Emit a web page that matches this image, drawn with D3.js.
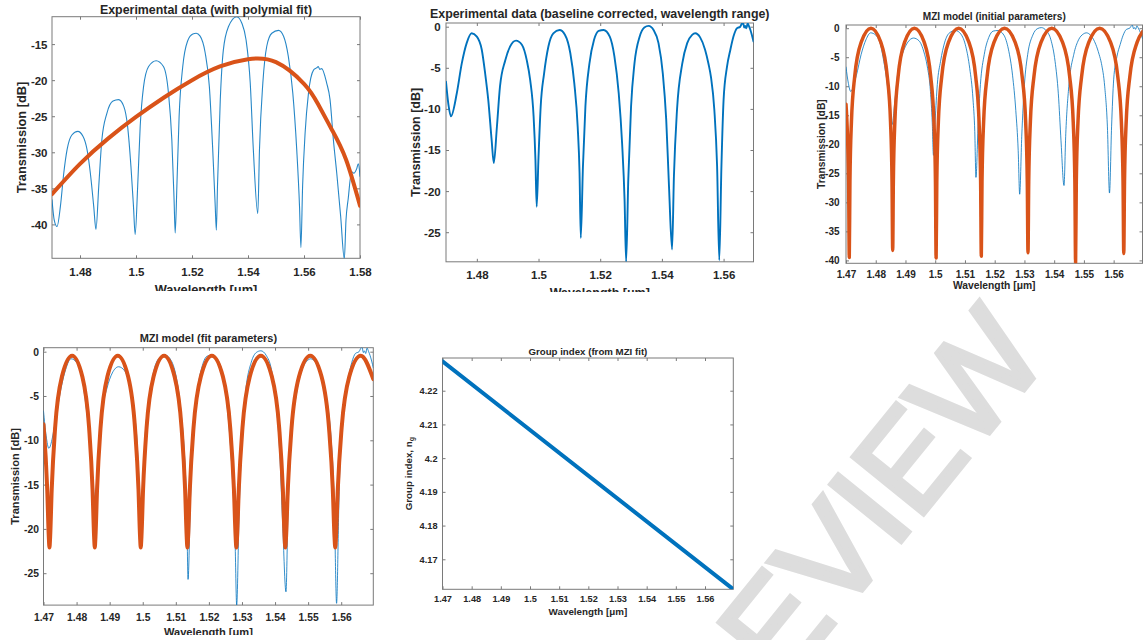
<!DOCTYPE html>
<html>
<head>
<meta charset="utf-8">
<script src="https://cdn.jsdelivr.net/npm/d3@7"></script>
<style>
  body { margin: 0; background: #fff; }
  svg { display: block; }
</style>
</head>
<body>
<svg id="fig" width="1143" height="640"></svg>
<script>
// ---------- data ----------
// Raw transmission spectrum [wavelength um, dB]
const rawSpectrum = [
  [1.4700,-36.6],[1.4708,-39.4],[1.4718,-40.3],[1.4730,-37.5],[1.4742,-32.9],[1.4754,-29.6],[1.4771,-27.6],[1.4792,-27.1],[1.4811,-27.8],[1.4825,-29.6],[1.4837,-32.9],[1.4849,-37.5],[1.4857,-40.7],
  [1.4867,-34.7],[1.4878,-28.3],[1.4896,-24.6],[1.4918,-22.9],[1.4938,-22.7],[1.4956,-23.6],[1.4970,-26.4],[1.4982,-32.0],[1.4991,-37.5],[1.4997,-41.4],
  [1.5006,-34.7],[1.5015,-26.4],[1.5027,-20.9],[1.5045,-18.1],[1.5072,-17.3],[1.5098,-18.1],[1.5116,-21.8],[1.5128,-28.3],[1.5136,-36.6],[1.5140,-41.2],
  [1.5146,-34.7],[1.5154,-25.0],[1.5167,-18.1],[1.5184,-14.6],[1.5203,-13.6],[1.5215,-13.5],[1.5229,-13.9],[1.5247,-16.2],[1.5262,-20.9],[1.5274,-29.6],[1.5283,-37.5],[1.5287,-40.8],
  [1.5291,-34.7],[1.5301,-22.7],[1.5312,-15.8],[1.5330,-12.6],[1.5360,-11.2],[1.5378,-12.1],[1.5393,-14.4],[1.5408,-20.4],[1.5419,-29.6],[1.5435,-38.5],
  [1.5441,-29.6],[1.5453,-20.4],[1.5467,-15.3],[1.5485,-13.5],[1.5509,-13.1],[1.5527,-13.9],[1.5544,-16.7],[1.5560,-21.8],[1.5574,-29.6],[1.5584,-37.5],[1.5589,-43.2],
  [1.5595,-34.7],[1.5604,-27.3],[1.5616,-21.8],[1.5634,-18.6],[1.5645,-18.3],[1.5651,-18.1],[1.5656,-18.5],[1.5663,-18.4],[1.5681,-20.4],[1.5693,-22.7],[1.5705,-28.3],[1.5717,-32.9],[1.5731,-38.9],[1.5744,-44.8],
  [1.5750,-39.4],[1.5758,-36.4],[1.5770,-32.7],[1.5778,-32.9],[1.5788,-32.3],[1.5794,-31.6],[1.5800,-33.3]
];

// Polynomial baseline fit [wavelength um, dB]
const polyFit = [
  [1.470,-35.8],[1.480,-31.6],[1.490,-28.1],[1.500,-25.1],[1.510,-22.4],[1.520,-20.0],
  [1.530,-18.1],[1.540,-17.1],[1.550,-17.5],[1.560,-20.5],[1.565,-23.3],[1.570,-26.9],
  [1.575,-31.0],[1.580,-37.4]
];

// Baseline-corrected spectrum [wavelength um, dB]
const correctedSpectrum = [
  [1.4700,-6.7],[1.4708,-9.5],[1.4716,-10.9],[1.4735,-8.1],[1.4751,-4.5],[1.4767,-2.0],[1.4783,-0.8],[1.4800,-1.2],[1.4816,-2.8],[1.4827,-5.7],[1.4837,-8.9],[1.4848,-13.8],[1.4855,-16.6],
  [1.4865,-12.2],[1.4875,-7.3],[1.4892,-4.1],[1.4908,-2.4],[1.4927,-1.7],[1.4946,-2.2],[1.4962,-4.1],[1.4973,-6.5],[1.4984,-10.9],[1.4990,-16.2],[1.4994,-21.9],
  [1.5000,-15.8],[1.5007,-9.7],[1.5018,-5.7],[1.5032,-2.4],[1.5048,-0.8],[1.5068,-0.4],[1.5086,-1.0],[1.5103,-3.2],[1.5116,-6.9],[1.5127,-12.2],[1.5133,-17.8],[1.5137,-25.7],
  [1.5144,-17.0],[1.5152,-9.7],[1.5165,-4.5],[1.5180,-1.6],[1.5195,-0.5],[1.5211,-0.4],[1.5231,-1.2],[1.5246,-3.6],[1.5260,-8.1],[1.5271,-14.2],[1.5279,-21.1],[1.5284,-28.6],
  [1.5291,-18.6],[1.5300,-9.7],[1.5311,-4.5],[1.5328,-1.2],[1.5343,-0.1],[1.5357,0.1],[1.5373,-0.4],[1.5389,-2.0],[1.5403,-5.7],[1.5414,-11.3],[1.5423,-19.4],[1.5433,-27.1],
  [1.5439,-18.2],[1.5449,-10.1],[1.5466,-4.5],[1.5482,-2.0],[1.5498,-1.0],[1.5508,-0.8],[1.5524,-1.3],[1.5540,-2.8],[1.5551,-4.5],[1.5559,-6.1],[1.5570,-10.1],[1.5579,-17.0],[1.5586,-28.4],
  [1.5593,-17.0],[1.5600,-8.9],[1.5611,-4.9],[1.5622,-2.8],[1.5632,-1.2],[1.5643,-0.2],[1.5654,0.0],[1.5658,0.3],[1.5663,0.5],[1.5667,-0.1],[1.5670,0.1],[1.5674,-0.2],[1.5678,0.4],[1.5683,0.0],[1.5687,-0.4],[1.5697,-1.8]
];

// MZI model with the initial parameters [wavelength um, dB]
const mziInitial = [
  [1.4700,-13.1],[1.47088,-26.5],[1.4711,-39.5],
  [1.47132,-26.5],[1.47183,-16.1],[1.47293,-8.3],[1.47512,-2.4],[1.4784,0],[1.48169,-2.4],[1.48388,-8.3],[1.48497,-16.1],[1.48548,-26.5],[1.4857,-38.3],
  [1.48592,-26.5],[1.48643,-16.1],[1.48753,-8.3],[1.48972,-2.4],[1.4930,0],[1.49629,-2.4],[1.49848,-8.3],[1.49957,-16.1],[1.50008,-26.5],[1.5003,-39.6],
  [1.50053,-26.5],[1.50106,-16.1],[1.5022,-8.3],[1.50448,-2.4],[1.5079,0],[1.51132,-2.4],[1.5136,-8.3],[1.51474,-16.1],[1.51527,-26.5],[1.5155,-39.3],
  [1.51573,-26.5],[1.51628,-16.1],[1.51745,-8.3],[1.51979,-2.4],[1.5233,0],[1.52686,-2.4],[1.52923,-8.3],[1.53041,-16.1],[1.53096,-26.5],[1.5312,-38.7],
  [1.53144,-26.5],[1.5320,-16.1],[1.5332,-8.3],[1.5356,-2.4],[1.5392,0],[1.5428,-2.4],[1.5452,-8.3],[1.5464,-16.1],[1.54696,-26.5],[1.5472,-40.4],
  [1.54744,-26.5],[1.54801,-16.1],[1.54923,-8.3],[1.55166,-2.4],[1.5553,0],[1.55895,-2.4],[1.56138,-8.3],[1.56259,-16.1],[1.56316,-26.5],[1.5634,-38.8],
  [1.56365,-26.5],[1.56422,-16.1],[1.56545,-8.3],[1.56791,-2.4],[1.5697,-0.6]
];

// MZI model with the fitted parameters [wavelength um, dB]
const mziFit = [
  [1.4700,-8.2],[1.47112,-15.5],[1.4716,-20.9],[1.4718,-22.1],
  [1.47201,-20.9],[1.47249,-15.5],[1.47351,-8.6],[1.47557,-2.8],[1.47865,-0.45],[1.48173,-2.8],[1.48379,-8.6],[1.48482,-15.5],[1.4853,-20.9],[1.4855,-22.1],
  [1.48571,-20.9],[1.4862,-15.5],[1.48724,-8.6],[1.48932,-2.8],[1.49245,-0.45],[1.49558,-2.8],[1.49766,-8.6],[1.49871,-15.5],[1.49919,-20.9],[1.4994,-22.1],
  [1.49961,-20.9],[1.50011,-15.5],[1.50116,-8.6],[1.50328,-2.8],[1.50645,-0.45],[1.50962,-2.8],[1.51174,-8.6],[1.5128,-15.5],[1.51329,-20.9],[1.5135,-22.1],
  [1.51372,-20.9],[1.51424,-15.5],[1.51535,-8.6],[1.51757,-2.8],[1.5209,-0.45],[1.52423,-2.8],[1.52645,-8.6],[1.52756,-15.5],[1.52808,-20.9],[1.5283,-22.1],
  [1.52852,-20.9],[1.52904,-15.5],[1.53015,-8.6],[1.53237,-2.8],[1.5357,-0.45],[1.53903,-2.8],[1.54125,-8.6],[1.54236,-15.5],[1.54288,-20.9],[1.5431,-22.1],
  [1.54333,-20.9],[1.54386,-15.5],[1.54499,-8.6],[1.54725,-2.8],[1.55065,-0.45],[1.55405,-2.8],[1.55631,-8.6],[1.55745,-15.5],[1.55797,-20.9],[1.5582,-22.1],
  [1.55843,-20.9],[1.55897,-15.5],[1.56013,-8.6],[1.56244,-2.8],[1.5659,-0.45],[1.5697,-3.1]
];

// Group index from the MZI fit [wavelength um, n_g]
const groupIndex = [[1.4700, 4.2287], [1.5697, 4.1611]];

// Tick values
const ticksRawX = [1.48, 1.5, 1.52, 1.54, 1.56, 1.58];
const ticksRawY = [-40, -35, -30, -25, -20, -15];
const ticksCorrX = [1.48, 1.5, 1.52, 1.54, 1.56];
const ticksCorrY = [-25, -20, -15, -10, -5, 0];
const ticksFineX = [1.47, 1.48, 1.49, 1.5, 1.51, 1.52, 1.53, 1.54, 1.55, 1.56];
const ticksModelY = [-40, -35, -30, -25, -20, -15, -10, -5, 0];
const ticksIndexY = [4.17, 4.18, 4.19, 4.2, 4.21, 4.22];

// ---------- drawing ----------
const FONT = "'Liberation Sans', Arial, Helvetica, sans-serif";
const TEXT = "#262626";
const AXIS = "#7a7a7a";
const BLUE = "#0072BD";
const ORANGE = "#D95319";
const svg = d3.select("#fig");
const defs = svg.append("defs");

function drawPanel(p) {
  const clipId = p.id + "-clip", boxId = p.id + "-box";
  defs.append("clipPath").attr("id", clipId).append("rect")
    .attr("x", p.clip[0]).attr("y", p.clip[1])
    .attr("width", p.clip[2] - p.clip[0]).attr("height", p.clip[3] - p.clip[1]);
  defs.append("clipPath").attr("id", boxId).append("rect")
    .attr("x", p.box.l).attr("y", p.box.t)
    .attr("width", p.box.r - p.box.l).attr("height", p.box.b - p.box.t);

  const g = svg.append("g").attr("clip-path", `url(#${clipId})`);
  const x = d3.scaleLinear().domain(p.xDomain).range([p.box.l, p.box.r]);
  const y = d3.scaleLinear().domain(p.yDomain).range([p.box.b, p.box.t]);
  const tickLen = 3;

  const styleAxis = sel => {
    sel.select(".domain").remove();
    sel.attr("font-family", FONT).attr("font-size", p.tickFs).attr("font-weight", "bold")
      .attr("color", AXIS);
    sel.selectAll("text").attr("fill", TEXT);
  };

  // axis box
  g.append("rect").attr("x", p.box.l).attr("y", p.box.t)
    .attr("width", p.box.r - p.box.l).attr("height", p.box.b - p.box.t)
    .attr("fill", "none").attr("stroke", AXIS).attr("stroke-width", 1);

  // bottom axis with labels, top axis ticks only
  g.append("g").attr("transform", `translate(0,${p.box.b})`)
    .call(d3.axisBottom(x).tickValues(p.xTicks).tickSizeInner(-tickLen).tickSizeOuter(0).tickFormat(d => String(d)))
    .call(styleAxis)
    .call(s => s.selectAll("text").attr("y", p.xTickBase - p.box.b).attr("dy", null));
  g.append("g").attr("transform", `translate(0,${p.box.t})`)
    .call(d3.axisTop(x).tickValues(p.xTicks).tickSizeInner(-tickLen).tickSizeOuter(0).tickFormat(""))
    .call(styleAxis);

  // left axis with labels, right axis ticks only
  g.append("g").attr("transform", `translate(${p.box.l},0)`)
    .call(d3.axisLeft(y).tickValues(p.yTicks).tickSizeInner(-tickLen).tickSizeOuter(0).tickPadding(p.yTickGap).tickFormat(d => String(d)))
    .call(styleAxis)
    .call(s => s.selectAll("text").attr("dy", "0.34em"));
  g.append("g").attr("transform", `translate(${p.box.r},0)`)
    .call(d3.axisRight(y).tickValues(p.yTicks).tickSizeInner(-tickLen).tickSizeOuter(0).tickFormat(""))
    .call(styleAxis);

  // data
  const plot = g.append("g").attr("clip-path", `url(#${boxId})`);
  p.series.forEach(s => {
    plot.append("path").datum(s.data)
      .attr("fill", "none").attr("stroke", s.color).attr("stroke-width", s.width)
      .attr("stroke-opacity", s.opacity == null ? 1 : s.opacity)
      .attr("stroke-linejoin", "round").attr("stroke-linecap", "round")
      .attr("d", d3.line().x(d => x(d[0])).y(d => y(d[1])).curve(s.curve || d3.curveMonotoneX));
  });

  const cx = (p.box.l + p.box.r) / 2, cy = (p.box.t + p.box.b) / 2;
  const txt = (sel, fs) => sel.attr("font-family", FONT).attr("font-weight", "bold")
    .attr("font-size", fs).attr("fill", TEXT).attr("text-anchor", "middle");

  g.append("text").attr("x", cx).attr("y", p.titleBase).text(p.title).call(txt, p.titleFs);
  g.append("text").attr("x", cx).attr("y", p.xLabelBase).call(txt, p.labelFs)
    .text("Wavelength [μm]");
  const yl = g.append("text").attr("transform", `translate(${p.yLabelBase},${cy}) rotate(-90)`)
    .call(txt, p.labelFs).text(p.yLabel);
  if (p.yLabelSub) {
    yl.append("tspan").attr("font-size", p.labelFs * 0.72).attr("dy", "0.32em").text(p.yLabelSub);
  }
}

const panels = [
  {
    id: "raw", clip: [0, 0, 392, 291], box: { l: 52, r: 360, t: 16.7, b: 258.3 },
    xDomain: [1.47, 1.58], yDomain: [-44.7, -11.2], xTicks: ticksRawX, yTicks: ticksRawY,
    title: "Experimental data (with polymial fit)", titleFs: 12.4, titleBase: 14,
    tickFs: 11.5, xTickBase: 276.5, yTickGap: 4.5,
    labelFs: 12.8, xLabelBase: 293.5, yLabelBase: 26.3, yLabel: "Transmission [dB]",
    series: [
      { data: rawSpectrum, color: BLUE, width: 1.1, opacity: 0.85 },
      { data: polyFit, color: ORANGE, width: 4, curve: d3.curveNatural }
    ]
  },
  {
    id: "corr", clip: [392, 0, 770.5, 292], box: { l: 446, r: 753.5, t: 23, b: 261.8 },
    xDomain: [1.47, 1.5697], yDomain: [-28.6, 0.45], xTicks: ticksCorrX, yTicks: ticksCorrY,
    title: "Experimental data (baseline corrected, wavelength range)", titleFs: 12.4, titleBase: 18,
    tickFs: 11.5, xTickBase: 279.5, yTickGap: 5.3,
    labelFs: 12.5, xLabelBase: 297, yLabelBase: 419.5, yLabel: "Transmission [dB]",
    series: [
      { data: correctedSpectrum, color: BLUE, width: 1.9 }
    ]
  },
  {
    id: "init", clip: [790, 0, 1143, 300], box: { l: 846, r: 1142.5, t: 25, b: 263.3 },
    xDomain: [1.47, 1.5697], yDomain: [-40.5, 0.55], xTicks: ticksFineX, yTicks: ticksModelY,
    title: "MZI model (initial parameters)", titleFs: 10.1, titleBase: 19.8,
    tickFs: 10, xTickBase: 278, yTickGap: 6.5,
    labelFs: 10.3, xLabelBase: 289, yLabelBase: 825.4, yLabel: "Transmission [dB]",
    series: [
      { data: correctedSpectrum, color: BLUE, width: 1, opacity: 0.8 },
      { data: mziInitial, color: ORANGE, width: 3.5 }
    ]
  },
  {
    id: "fit", clip: [0, 300, 392, 635], box: { l: 43.5, r: 373.3, t: 347.7, b: 605.1 },
    xDomain: [1.47, 1.5697], yDomain: [-28.6, 0.45], xTicks: ticksFineX, yTicks: ticksCorrY,
    title: "MZI model (fit parameters)", titleFs: 11, titleBase: 341.5,
    tickFs: 10.3, xTickBase: 621.5, yTickGap: 4.5,
    labelFs: 11.1, xLabelBase: 636, yLabelBase: 19, yLabel: "Transmission [dB]",
    series: [
      { data: correctedSpectrum, color: BLUE, width: 1, opacity: 0.8 },
      { data: mziFit, color: ORANGE, width: 4 }
    ]
  },
  {
    id: "ng", clip: [392, 300, 770, 640], box: { l: 442.5, r: 733.3, t: 358, b: 589.3 },
    xDomain: [1.47, 1.5697], yDomain: [4.1611, 4.2297], xTicks: ticksFineX, yTicks: ticksIndexY,
    title: "Group index (from MZI fit)", titleFs: 9.7, titleBase: 355,
    tickFs: 9.2, xTickBase: 602.5, yTickGap: 5,
    labelFs: 9.8, xLabelBase: 614.5, yLabelBase: 411.8, yLabel: "Group index, n", yLabelSub: "g",
    series: [
      { data: groupIndex, color: BLUE, width: 4, curve: d3.curveLinear }
    ]
  }
];

panels.forEach(drawPanel);

// watermark
svg.append("text")
  .attr("transform", "translate(822,564) rotate(-51)")
  .attr("text-anchor", "middle").attr("dy", "0.36em")
  .attr("font-family", FONT).attr("font-size", 132)
  .attr("fill", "#dddddd").attr("stroke", "#dddddd").attr("stroke-width", 5)
  .attr("stroke-linejoin", "miter")
  .text("PREVIEW");
</script>
</body>
</html>
